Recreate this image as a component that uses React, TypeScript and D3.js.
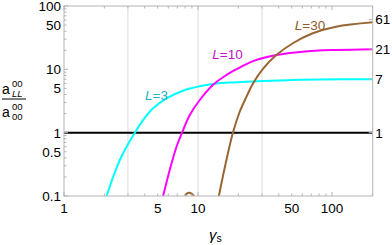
import * as d3 from 'd3'

// curve readings (gamma_s, a_LL/a_00)
const cyanG = [2.08, 2.33, 2.61, 2.93, 3.38, 3.89, 4.62, 5.82, 7.73, 10.3, 13.7, 18.2, 25.7, 45.5, 80.5, 201]
const cyanV = [0.1, 0.202, 0.37, 0.6, 1.0, 1.58, 2.43, 3.49, 4.6, 5.4, 5.95, 6.22, 6.45, 6.75, 6.9, 6.97]
const magG = [5.49, 6.15, 6.91, 7.6, 8.68, 10.3, 12.9, 16.3, 20.4, 25.7, 38.4, 60.5, 107, 201]
const magV = [0.1, 0.258, 0.6, 1.0, 1.9, 3.28, 5.66, 8.14, 10.6, 13.5, 16.8, 19.0, 20.2, 20.8]
const brG = [14.3, 15.4, 16.7, 18.2, 20.4, 23, 25.7, 30.5, 38.4, 51, 71.8, 107, 201]
const brV = [0.1, 0.214, 0.47, 1.0, 2.1, 3.7, 6.0, 10.2, 16.8, 25.8, 37.1, 47.1, 55.3]
const loopG = [8.0, 8.2, 8.6, 9.0, 9.33]
const loopV = [0.1, 0.108, 0.113, 0.108, 0.1]

const yLabels = [0.1, 0.5, 1, 5, 10, 50, 100]
const xLabels = [1, 5, 10, 50, 100]
const gridX = [3, 10, 30]
const limits = [1, 7, 21, 61]
const curveLabels = [
  { text: '3', g: 4.9, v: 3.3, color: '#20b4c4' },
  { text: '10', g: 16.6, v: 14.6, color: '#c414c8' },
  { text: '30', g: 68.5, v: 41.8, color: '#8c5c2c' },
]

const W = 392, H = 245
const left = 64, right = 372.7, top = 6, bottom = 196

export default function App() {
  const x = d3.scaleLog().domain([1, 201]).range([left, right])
  const y = d3.scaleLog().domain([0.1, 100]).range([bottom, top])
  const line = d3.line<[number, number]>().x(d => x(d[0])).y(d => y(d[1])).curve(d3.curveCatmullRom.alpha(0.5))
  const pts = (g: number[], v: number[]) => g.map((d, i) => [d, v[i]] as [number, number])

  const minorX: number[] = []
  for (const dec of [1, 10, 100]) for (let k = 2; k <= 9; k++) if (dec * k <= 201) minorX.push(dec * k)
  const minorY: number[] = []
  for (const dec of [0.1, 1, 10]) for (let k = 2; k <= 9; k++) minorY.push(dec * k)

  const frame = '#b4b4b4'
  const font = 'Liberation Sans, Arial, sans-serif'

  return (
    <svg width={W} height={H} style={{ position: 'absolute', left: 0, top: 0 }} fontFamily={font}>
      <defs>
        <clipPath id="plot">
          <rect x={left} y={top} width={right - left} height={bottom - top} />
        </clipPath>
      </defs>
      {gridX.map(g => (
        <line key={g} x1={x(g)} x2={x(g)} y1={top} y2={bottom} stroke="#dcdcdc" strokeWidth={1} />
      ))}
      <g clipPath="url(#plot)" fill="none" strokeWidth={2}>
        <line x1={left} x2={right} y1={y(1)} y2={y(1)} stroke="#000" />
        <path d={line(pts(cyanG, cyanV)) || ''} stroke="#00ffff" />
        <path d={line(pts(magG, magV)) || ''} stroke="#ff00ff" />
        <path d={line(pts(brG, brV)) || ''} stroke="#996633" />
        <path d={line(pts(loopG, loopV)) || ''} stroke="#996633" />
      </g>
      <rect x={left} y={top} width={right - left} height={bottom - top} fill="none" stroke={frame} strokeWidth={1} />
      {/* ticks */}
      <g stroke={frame} strokeWidth={1}>
        {[1, 10, 100].map(t => (
          <g key={'xm' + t}>
            <line x1={x(t)} x2={x(t)} y1={bottom} y2={bottom - 4} />
            <line x1={x(t)} x2={x(t)} y1={top} y2={top + 4} />
          </g>
        ))}
        {minorX.map(t => (
          <g key={'xn' + t}>
            <line x1={x(t)} x2={x(t)} y1={bottom} y2={bottom - 2.5} />
            <line x1={x(t)} x2={x(t)} y1={top} y2={top + 2.5} />
          </g>
        ))}
        {[0.1, 1, 10, 100].map(t => (
          <line key={'ym' + t} x1={left} x2={left + 4} y1={y(t)} y2={y(t)} />
        ))}
        {minorY.map(t => (
          <line key={'yn' + t} x1={left} x2={left + 2.5} y1={y(t)} y2={y(t)} />
        ))}
        {limits.map(t => (
          <line key={'r' + t} x1={right} x2={right - 4} y1={y(t)} y2={y(t)} />
        ))}
      </g>
      <g fontSize={13.5} fill="#000">
        {yLabels.map(t => (
          <text key={'yl' + t} x={left - 3} y={y(t)} dy="0.36em" textAnchor="end">{t}</text>
        ))}
        {xLabels.map(t => (
          <text key={'xl' + t} x={x(t)} y={bottom + 17} textAnchor="middle">{t}</text>
        ))}
        {limits.map(t => (
          <text key={'rl' + t} x={right + 2.5} y={y(t)} dy="0.36em">{t}</text>
        ))}
      </g>
      {curveLabels.map(c => (
        <text key={c.text} x={x(c.g)} y={y(c.v)} fontSize={13.5} fill={c.color} textAnchor="middle">
          <tspan fontStyle="italic">L</tspan>={c.text}
        </text>
      ))}
      {/* axis labels */}
      <text x={209} y={240} fontSize={15}>
        <tspan fontStyle="italic">γ</tspan>
        <tspan fontSize={10.5} dy={2}>s</tspan>
      </text>
      <g fill="#000">
        <text x={2} y={94} fontSize={14}>a</text>
        <text x={12} y={87} fontSize={9.5}>00</text>
        <text x={12} y={97} fontSize={9.5} fontStyle="italic">LL</text>
        <line x1={2} x2={26} y1={99} y2={99} stroke="#000" strokeWidth={1} />
        <text x={2} y={117} fontSize={14}>a</text>
        <text x={12} y={110} fontSize={9.5}>00</text>
        <text x={12} y={120} fontSize={9.5}>00</text>
      </g>
    </svg>
  )
}
